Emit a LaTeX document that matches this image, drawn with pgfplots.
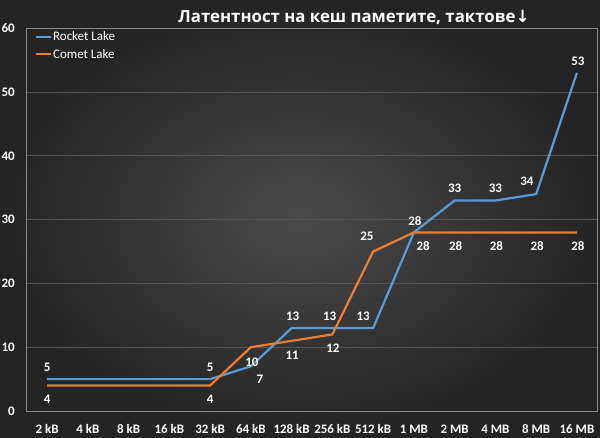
\documentclass[border=0pt]{standalone}
\usepackage{pgfplots}
\usepackage{pgfplotstable}
\pgfplotsset{compat=1.18}
\usepackage{fontspec}
\setmainfont{Carlito}
\newfontfamily\titlefont{Open Sans}
\newfontfamily\arrowfont{DejaVu Sans}
\definecolor{rl}{HTML}{5B9BD5}
\definecolor{cl}{HTML}{ED7D31}
\definecolor{bgin}{HTML}{4A4A4A}
\definecolor{bgout}{HTML}{242424}
\definecolor{frame}{HTML}{8A8A8A}
\definecolor{gridc}{HTML}{555555}

\pgfplotstableread{
x y
0 5
1 5
2 5
3 5
4 5
5 7
6 13
7 13
8 13
9 28
10 33
11 33
12 34
13 53
}\rocket

\pgfplotstableread{
x y
0 4
1 4
2 4
3 4
4 4
5 10
6 11
7 12
8 25
9 28
10 28
11 28
12 28
13 28
}\comet

\pgfplotstableread{
x y dx dy
0 5 0 11.6
4 5 0 11.6
5 7 9 -13
6 13 1 12
7 13 -2.7 12
8 13 -10 11.5
9 28 1 11.7
10 33 0 12.2
11 33 0 12.2
12 34 -9.2 13.1
13 53 1 12
}\rocketlab

\pgfplotstableread{
x y dx dy
0 4 0 -14.2
4 4 0 -14.2
5 10 1 -14.8
6 11 0.6 -14.4
7 12 0.6 -14.2
8 25 -6.2 15.3
9 28 9.3 -13.3
10 28 1 -13.3
11 28 1 -13.3
12 28 1 -13.3
13 28 1 -13.3
}\cometlab

\begin{document}
\begin{tikzpicture}
\useasboundingbox (0pt,0pt) rectangle (600pt,437pt);
\shade[inner color=bgin, outer color=bgout] (0pt,0pt) rectangle (600pt,437pt);
\node[font=\titlefont\bfseries\fontsize{16.8}{20}\selectfont, text=white, anchor=base, inner sep=0pt] at (354pt,414pt) {Латентност на кеш паметите, тактове{\arrowfont↓}};
\begin{axis}[
  at={(26.7pt,26pt)}, anchor=south west,
  width=570.6pt, height=382.7pt, scale only axis,
  xmin=-0.5, xmax=13.5, ymin=0, ymax=60,
  ytick={0,10,...,60},
  xtick={0,...,13},
  xticklabels={2 kB,4 kB,8 kB,16 kB,32 kB,64 kB,128 kB,256 kB,512 kB,1 MB,2 MB,4 MB,8 MB,16 MB},
  axis line style={draw=frame, line width=0.9pt},
  major tick length=0pt,
  ymajorgrids, grid style={draw=gridc, line width=0.8pt},
  tick label style={font=\bfseries\fontsize{13}{15}\selectfont, text=white},
  /pgf/number format/assume math mode=true,
  yticklabel style={inner sep=0pt, anchor=east, xshift=-11.7pt},
  xticklabel style={inner sep=0pt, anchor=base, yshift=-22pt},
  legend style={draw=none, fill=none, at={(axis description cs:0,1)}, anchor=north west,
    xshift=8pt, yshift=-2pt, inner sep=0pt, row sep=5pt,
    font=\fontsize{13}{15}\selectfont, text=white,
    nodes={inner sep=1pt, text=white}},
  legend cell align=left,
  legend image code/.code={\draw[#1, line width=2.2pt] (0pt,0pt) -- (15pt,0pt);},
  nodes near coords style={font=\bfseries\fontsize{13}{15}\selectfont, text=white, anchor=center, inner sep=0pt},
]
\addplot[rl, line width=2.2pt, mark=none] table[x=x,y=y] {\rocket};
\addlegendentry{Rocket Lake}
\addplot[cl, line width=2.2pt, mark=none] table[x=x,y=y] {\comet};
\addlegendentry{Comet Lake}

\addplot[draw=none, mark=none, forget plot,
  visualization depends on={\thisrow{dx}\as\dx},
  visualization depends on={\thisrow{dy}\as\dy},
  nodes near coords,
  every node near coord/.append style={xshift=\dx pt, yshift=\dy pt}]
  table[x=x,y=y] {\rocketlab};
\addplot[draw=none, mark=none, forget plot,
  visualization depends on={\thisrow{dx}\as\dx},
  visualization depends on={\thisrow{dy}\as\dy},
  nodes near coords,
  every node near coord/.append style={xshift=\dx pt, yshift=\dy pt}]
  table[x=x,y=y] {\cometlab};
\end{axis}
\end{tikzpicture}
\end{document}
